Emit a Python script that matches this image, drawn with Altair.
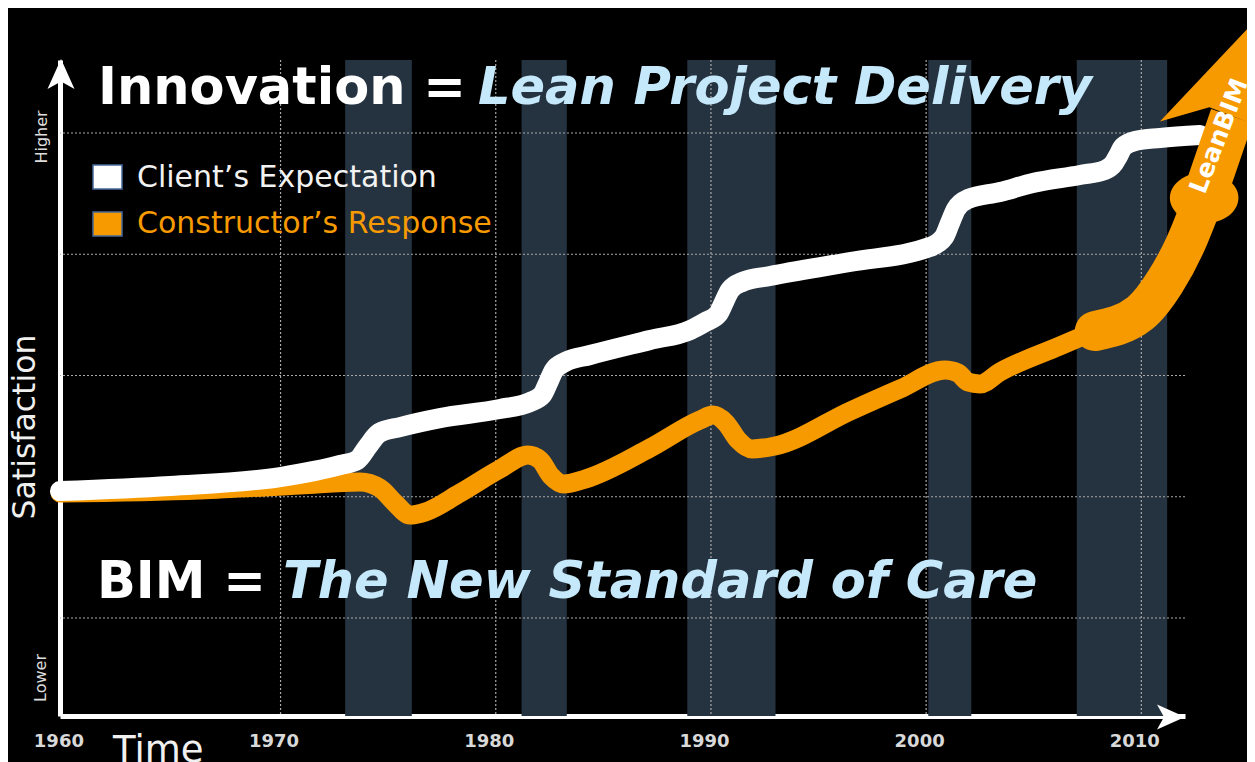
import altair as alt
import pandas as pd

# ---------------- data ----------------
SERIES = ["Client’s Expectation", "Constructor’s Response"]
YEAR_TICKS = [1960, 1970, 1980, 1990, 2000, 2010]
GRID_YEARS = [1970, 1980, 1990, 2000, 2010]
GRID_LEVELS = [1, 2, 3, 4, 5]

BAND_START = [1973.0, 1981.2, 1988.9, 2000.1, 2007.0]
BAND_END = [1976.1, 1983.3, 1993.0, 2002.1, 2011.2]

CLIENT_YEAR = [1959.75, 1964.87, 1969.98, 1972.77, 1973.56, 1974.07, 1974.58, 1975.55,
               1977.41, 1980.20, 1981.59, 1982.15, 1982.43, 1982.71, 1983.22, 1984.38,
               1987.17, 1989.03, 1989.73, 1990.33, 1990.61, 1990.89, 1991.45, 1992.75,
               1996.46, 2000.18, 2000.83, 2001.11, 2001.39, 2001.95, 2003.43, 2004.96,
               2007.15, 2008.31, 2008.73, 2008.92, 2009.15, 2009.71, 2010.87, 2012.73]
CLIENT_LEVEL = [2.047, 2.089, 2.163, 2.262, 2.303, 2.419, 2.526, 2.575,
                2.649, 2.724, 2.781, 2.839, 2.938, 3.045, 3.111, 3.169,
                3.293, 3.375, 3.441, 3.507, 3.606, 3.705, 3.771, 3.821,
                3.936, 4.060, 4.142, 4.258, 4.373, 4.456, 4.513, 4.588,
                4.654, 4.695, 4.753, 4.810, 4.885, 4.934, 4.959, 4.984]

CONSTR_YEAR = [1959.75, 1966.26, 1970.91, 1973.69, 1974.62, 1975.32, 1976.01, 1976.71,
               1978.34, 1980.20, 1981.50, 1982.06, 1982.57, 1983.17, 1984.15, 1987.17,
               1989.49, 1990.10, 1990.70, 1991.26, 1991.91, 1992.98, 1996.47, 1998.78,
               2000.87, 2001.48, 2001.94, 2002.50, 2003.43, 2006.21, 2007.84]
CONSTR_LEVEL = [2.031, 2.056, 2.097, 2.122, 2.072, 1.948, 1.849, 1.874,
                2.031, 2.229, 2.344, 2.303, 2.171, 2.105, 2.146, 2.402,
                2.633, 2.674, 2.608, 2.468, 2.394, 2.419, 2.707, 2.889,
                3.045, 3.021, 2.946, 2.930, 3.029, 3.243, 3.367]

LEAN_YEAR = [2007.84, 2009.94, 2011.10, 2012.03, 2012.87]
LEAN_LEVEL = [3.367, 3.515, 3.771, 4.076, 4.447]
SHAFT_YEAR = [2012.87, 2014.21]
SHAFT_LEVEL = [4.447, 5.140]
HEAD_YEAR = [2015.0]
HEAD_LEVEL = [5.511]
BLOB1_YEAR = [2007.84]
BLOB1_LEVEL = [3.358]
BLOB2_YEAR = [2012.92]
BLOB2_LEVEL = [4.464]

# ---------------- styles ----------------
W, H = 1125, 656
ORANGE = "#f79a00"
WHITE = "#ffffff"
BAND = "#25323f"
LIGHTBLUE = "#c5e8fb"
GRID = "#a8a8a8"
FONT = "DejaVu Sans"

XS = alt.Scale(domain=[1959.75, 2012.03], nice=False, zero=False)
YS = alt.Scale(domain=[0.192, 5.602], nice=False, zero=False)

X_AXIS = alt.Axis(
    values=YEAR_TICKS, format="d", grid=False, ticks=False, domain=True,
    domainColor=WHITE, domainWidth=5, labelFont="DejaVu Sans",
    labelFontWeight="bold", labelFontSize=18, labelColor="#d9d9d9",
    labelPadding=16, labelBaseline="top", labelOffset=-7, title=None,
    labelFlush=False, labelOverlap=False)
Y_AXIS = alt.Axis(grid=False, ticks=False, labels=False, domain=True,
                  domainColor=WHITE, domainWidth=5, title=None)


def xenc(field="year"):
    return alt.X(f"{field}:Q", scale=XS, axis=X_AXIS)


def yenc(field="level"):
    return alt.Y(f"{field}:Q", scale=YS, axis=Y_AXIS)


one = pd.DataFrame({"k": [0]})

bands = alt.Chart(pd.DataFrame({"start": BAND_START, "end": BAND_END})).mark_rect(
    color=BAND
).encode(x=xenc("start"), x2="end:Q", y=alt.value(0), y2=alt.value(H))

hgrid = alt.Chart(pd.DataFrame({"level": GRID_LEVELS})).mark_rule(
    color=GRID, strokeDash=[2, 2], strokeWidth=1.2
).encode(y=yenc())

vgrid = alt.Chart(pd.DataFrame({"year": GRID_YEARS})).mark_rule(
    color=GRID, strokeDash=[2, 2], strokeWidth=1.2
).encode(x=xenc())

client_df = pd.DataFrame({"year": CLIENT_YEAR, "level": CLIENT_LEVEL, "series": SERIES[0]})
constr_df = pd.DataFrame({"year": CONSTR_YEAR, "level": CONSTR_LEVEL, "series": SERIES[1]})

orange_line = alt.Chart(constr_df).mark_line(
    color=ORANGE, strokeWidth=19, strokeCap="round", strokeJoin="round",
    interpolate="monotone"
).encode(x=xenc(), y=yenc())

white_line = alt.Chart(client_df).mark_line(
    color=WHITE, strokeWidth=20, strokeCap="round", strokeJoin="round",
    interpolate="monotone"
).encode(x=xenc(), y=yenc())

lean_line = alt.Chart(pd.DataFrame({"year": LEAN_YEAR, "level": LEAN_LEVEL})).mark_line(
    color=ORANGE, strokeWidth=40, strokeCap="round", strokeJoin="round",
    interpolate="monotone"
).encode(x=xenc(), y=yenc())

shaft = alt.Chart(pd.DataFrame({"year": SHAFT_YEAR, "level": SHAFT_LEVEL})).mark_line(
    color=ORANGE, strokeWidth=44, strokeCap="butt"
).encode(x=xenc(), y=yenc())

blob1 = alt.Chart(pd.DataFrame({"year": BLOB1_YEAR, "level": BLOB1_LEVEL})).mark_circle(
    color=ORANGE, size=1250, opacity=1
).encode(x=xenc(), y=yenc())

blob2 = alt.Chart(pd.DataFrame({"year": BLOB2_YEAR, "level": BLOB2_LEVEL})).mark_point(
    shape="M -1 0 A 1 0.74 0 1 0 1 0 A 1 0.74 0 1 0 -1 0 Z",
    filled=True, color=ORANGE, size=4700, opacity=1, strokeWidth=0
).encode(x=xenc(), y=yenc())

head = alt.Chart(pd.DataFrame({"year": HEAD_YEAR, "level": HEAD_LEVEL})).mark_point(
    shape="M 0 -0.718 L 0.591 0.718 L 0.218 0.436 L -0.218 0.436 L -0.591 0.718 Z",
    filled=True, color=ORANGE, size=48400, angle=21, opacity=1, strokeWidth=0
).encode(x=xenc(), y=yenc())


def txt(text, x, y, size, color=WHITE, weight="normal", style="normal",
        angle=0, align="left", baseline="alphabetic", font=FONT):
    return alt.Chart(one).mark_text(
        text=text, font=font, fontSize=size, fontWeight=weight, fontStyle=style,
        color=color, angle=angle, align=align, baseline=baseline
    ).encode(x=alt.value(x), y=alt.value(y))


lean_text = txt("LeanBIM", 1159, 76, 25, weight="bold", angle=291,
                align="center", baseline="middle")

title1 = txt("Innovation =", 38, 44, 51, weight="bold")
title2 = txt("Lean Project Delivery", 418, 44, 51, color=LIGHTBLUE, weight="bold", style="italic")
bim1 = txt("BIM =", 37, 538, 51, weight="bold")
bim2 = txt("The New Standard of Care", 223, 538, 51, color=LIGHTBLUE, weight="bold", style="italic")

RECT = "M -1 -0.83 L 1 -0.83 L 1 0.83 L -1 0.83 Z"
leg_sq1 = alt.Chart(one).mark_point(
    shape=RECT, filled=True, color=WHITE, size=841, opacity=1,
    stroke="#46689a", strokeWidth=1.5
).encode(x=alt.value(47.5), y=alt.value(117))
leg_sq2 = alt.Chart(one).mark_point(
    shape=RECT, filled=True, color=ORANGE, size=841, opacity=1,
    stroke="#46689a", strokeWidth=1.5
).encode(x=alt.value(47.5), y=alt.value(164))
leg_t1 = txt(SERIES[0], 77, 127, 30, color="#f2f2f2")
leg_t2 = txt(SERIES[1], 77, 173, 30, color=ORANGE)

higher = txt("Higher", -18, 77, 16, color="#dddddd", angle=270, align="center", baseline="middle")
lower = txt("Lower", -19, 618, 16, color="#dddddd", angle=270, align="center", baseline="middle")
satisf = txt("Satisfaction", -34, 367, 31.5, color="#f0f0f0", angle=270, align="center", baseline="middle")
time_t = txt("Time", 53, 702, 37, color="#f0f0f0")

x_arrow = alt.Chart(one).mark_point(
    shape="M 1 0 L -1 -0.9 L -0.5 0 L -1 0.9 Z", filled=True, color=WHITE,
    size=784, opacity=1, strokeWidth=0
).encode(x=alt.value(W - 14), y=alt.value(H + 1))
y_arrow = alt.Chart(one).mark_point(
    shape="M 0 -1 L 0.9 1 L 0 0.5 L -0.9 1 Z", filled=True, color=WHITE,
    size=900, opacity=1, strokeWidth=0
).encode(x=alt.value(1), y=alt.value(14))

chart = alt.layer(
    bands, hgrid, vgrid, orange_line, white_line, lean_line, blob1, shaft,
    blob2, head, lean_text, title1, title2, bim1, bim2, leg_sq1, leg_sq2,
    leg_t1, leg_t2, higher, lower, satisf, time_t, x_arrow, y_arrow
).properties(
    width=W, height=H, background="black",
    padding={"left": 52, "top": 52, "right": 62, "bottom": 46},
    autosize=alt.AutoSizeParams(type="none"),
).configure_view(stroke=None)

chart.save("out.html", embed_options={"renderer": "svg", "actions": False})
